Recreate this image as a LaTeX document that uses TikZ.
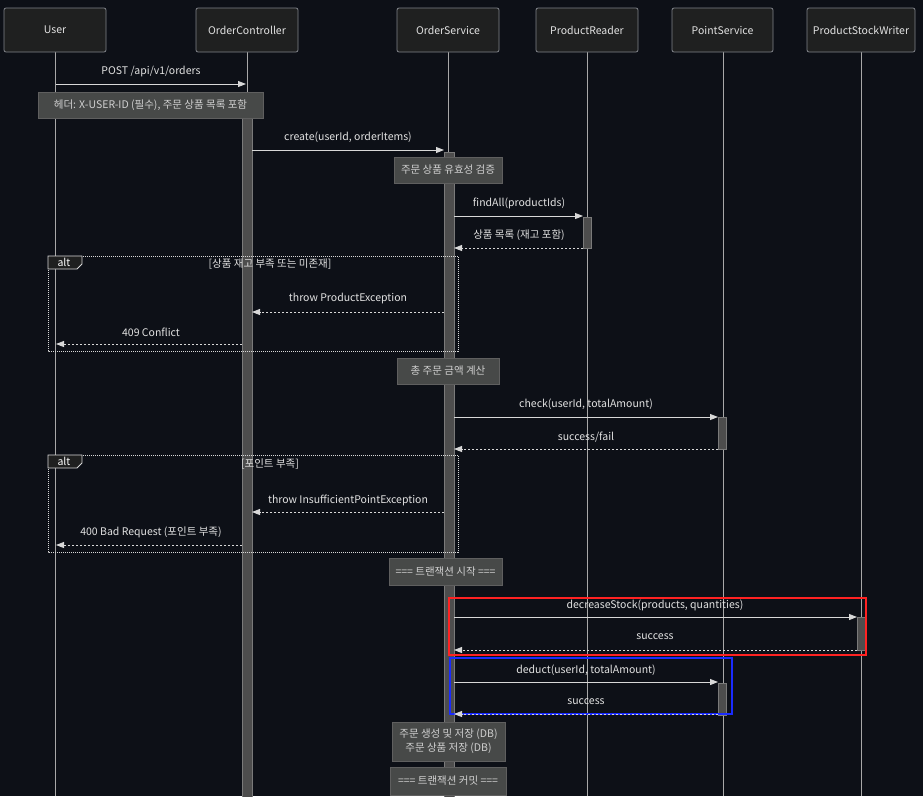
\documentclass[tikz,border=0pt]{standalone}
\usepackage{fontspec}
\setmainfont{Noto Sans CJK KR}
\usetikzlibrary{arrows.meta}
\definecolor{bg}{HTML}{0D1017}
\definecolor{actorfill}{HTML}{1F2020}
\definecolor{actorborder}{HTML}{81848A}
\definecolor{lifeln}{HTML}{A8A8A8}
\definecolor{actfill}{HTML}{4D4D4D}
\definecolor{actborder}{HTML}{7A7A7A}
\definecolor{notefill}{HTML}{474948}
\definecolor{noteborder}{HTML}{5F5F5F}
\definecolor{txt}{HTML}{E2E2E2}
\definecolor{notetxt}{HTML}{D0D0D0}
\definecolor{msgcol}{HTML}{D8D8D8}
\definecolor{redbox}{HTML}{FF2222}
\definecolor{bluebox}{HTML}{1A2BFF}
\begin{document}
\begin{tikzpicture}[x=1pt,y=-1pt,
  font=\fontsize{10.5}{13}\selectfont,
  actor/.style={draw=actorborder, fill=actorfill, rounded corners=2pt, line width=0.8pt,
    minimum height=44pt, text=txt, inner sep=0pt},
  lifeline/.style={draw=lifeln, line width=0.9pt},
  actbar/.style={draw=actborder, fill=actfill, line width=0.8pt},
  notebox/.style={draw=noteborder, fill=notefill, text=notetxt, inner sep=0pt, line width=0.8pt, align=center},
  msg/.style={draw=msgcol, line width=0.9pt, -{Triangle[length=8pt,width=6pt]}},
  reply/.style={msg, dash pattern=on 2pt off 2pt},
  lbl/.style={text=txt, inner sep=0pt},
  frame/.style={draw=msgcol, line width=0.8pt, dash pattern=on 1pt off 1pt},
  tagbox/.style={draw=msgcol, fill=actorfill, line width=0.8pt},
]
\useasboundingbox (0,0) rectangle (923,796);
\fill[bg] (0,0) rectangle (923,796);

% lifelines
\foreach \x/\n in {55.5/u,247/oc,448/os,587/pr,723/ps,861/sw}{
  \coordinate (top\n) at (\x,52);
  \coordinate (bot\n) at (\x,796);
  \draw[lifeline] (top\n) -- (bot\n);
}

% actors
\node[actor, minimum width=102pt] (user) at (55,30) {User};
\node[actor, minimum width=102pt] (ctrl) at (247,30) {OrderController};
\node[actor, minimum width=102pt] (svc) at (448,30) {OrderService};
\node[actor, minimum width=102pt] (reader) at (587,30) {ProductReader};
\node[actor, minimum width=101pt] (point) at (722.5,30) {PointService};
\node[actor, minimum width=108pt] (writer) at (861,30) {ProductStockWriter};

% activations
\path[actbar] (242,100) rectangle (252,797);
\path[actbar] (444,152) rectangle (454,797);
\path[actbar] (583,217) rectangle (591,248);
\path[actbar] (718,417) rectangle (726,449);
\path[actbar] (857,617) rectangle (865,650);
\path[actbar] (718,683) rectangle (726,715);

% alt frames
\draw[frame] (48,256) rectangle (458,351);
\draw[tagbox] (48,256) -- (82,256) -- (82,264) -- (77,269) -- (48,269) -- cycle;
\node[lbl, text=white] (alt1) at (64,262.5) {alt};
\node[lbl] (cond1) at (270,264) {[상품 재고 부족 또는 미존재]};

\draw[frame] (48,455) rectangle (458,552);
\draw[tagbox] (48,455) -- (82,455) -- (82,463) -- (77,468) -- (48,468) -- cycle;
\node[lbl, text=white] (alt2) at (64,461.5) {alt};
\node[lbl] (cond2) at (270,464) {[포인트 부족]};

% highlight boxes
\draw[redbox, line width=1.6pt] (449,598) rectangle (866,655);
\draw[bluebox, line width=1.6pt] (450,658) rectangle (732,714);

% messages
\coordinate (a1) at (56,84); \coordinate (b1) at (246,84);
\draw[msg] (a1) -- (b1);
\node[lbl] (l1) at (151,72) {POST /api/v1/orders};

\coordinate (a2) at (252,150); \coordinate (b2) at (444,150);
\draw[msg] (a2) -- (b2);
\node[lbl] (l2) at (348,137) {create(userId, orderItems)};

\coordinate (a3) at (454,216); \coordinate (b3) at (583,216);
\draw[msg] (a3) -- (b3);
\node[lbl] (l3) at (519,203) {findAll(productIds)};

\coordinate (a4) at (583,248); \coordinate (b4) at (454,248);
\draw[reply] (a4) -- (b4);
\node[lbl] (l4) at (519,235) {상품 목록 (재고 포함)};

\coordinate (a5) at (444,312); \coordinate (b5) at (252,312);
\draw[reply] (a5) -- (b5);
\node[lbl] (l5) at (348,299) {throw ProductException};

\coordinate (a6) at (242,344); \coordinate (b6) at (56,344);
\draw[reply] (a6) -- (b6);
\node[lbl] (l6) at (151,332) {409 Conflict};

\coordinate (a7) at (454,417); \coordinate (b7) at (718,417);
\draw[msg] (a7) -- (b7);
\node[lbl] (l7) at (586,404) {check(userId, totalAmount)};

\coordinate (a8) at (718,449); \coordinate (b8) at (454,449);
\draw[reply] (a8) -- (b8);
\node[lbl] (l8) at (586,437) {success/fail};

\coordinate (a9) at (444,512); \coordinate (b9) at (252,512);
\draw[reply] (a9) -- (b9);
\node[lbl] (l9) at (348,500) {throw InsufficientPointException};

\coordinate (a10) at (242,545); \coordinate (b10) at (56,545);
\draw[reply] (a10) -- (b10);
\node[lbl] (l10) at (151,532) {400 Bad Request (포인트 부족)};

\coordinate (a11) at (454,617); \coordinate (b11) at (857,617);
\draw[msg] (a11) -- (b11);
\node[lbl] (l11) at (655,605) {decreaseStock(products, quantities)};

\coordinate (a12) at (857,650); \coordinate (b12) at (454,650);
\draw[reply] (a12) -- (b12);
\node[lbl] (l12) at (655,637) {success};

\coordinate (a13) at (454,682); \coordinate (b13) at (718,682);
\draw[msg] (a13) -- (b13);
\node[lbl] (l13) at (586,670) {deduct(userId, totalAmount)};

\coordinate (a14) at (718,714); \coordinate (b14) at (454,714);
\draw[reply] (a14) -- (b14);
\node[lbl] (l14) at (586,702) {success};

% notes
\node[notebox, minimum width=225pt, minimum height=26pt] (n1) at (150.5,105) {헤더: X-USER-ID (필수), 주문 상품 목록 포함};
\node[notebox, minimum width=108pt, minimum height=26pt] (n2) at (448,170) {주문 상품 유효성 검증};
\node[notebox, minimum width=102pt, minimum height=26pt] (n3) at (448,371) {총 주문 금액 계산};
\node[notebox, minimum width=113pt, minimum height=27pt] (n4) at (445.5,571.5) {=== 트랜잭션 시작 ===};
\node[notebox, minimum width=113pt, minimum height=39pt, font=\fontsize{10.5}{14}\selectfont] (n5) at (448.5,741.5) {주문 생성 및 저장 (DB)\\주문 상품 저장 (DB)};
\node[notebox, minimum width=116pt, minimum height=28pt] (n6) at (448,781) {=== 트랜잭션 커밋 ===};
\end{tikzpicture}
\end{document}
